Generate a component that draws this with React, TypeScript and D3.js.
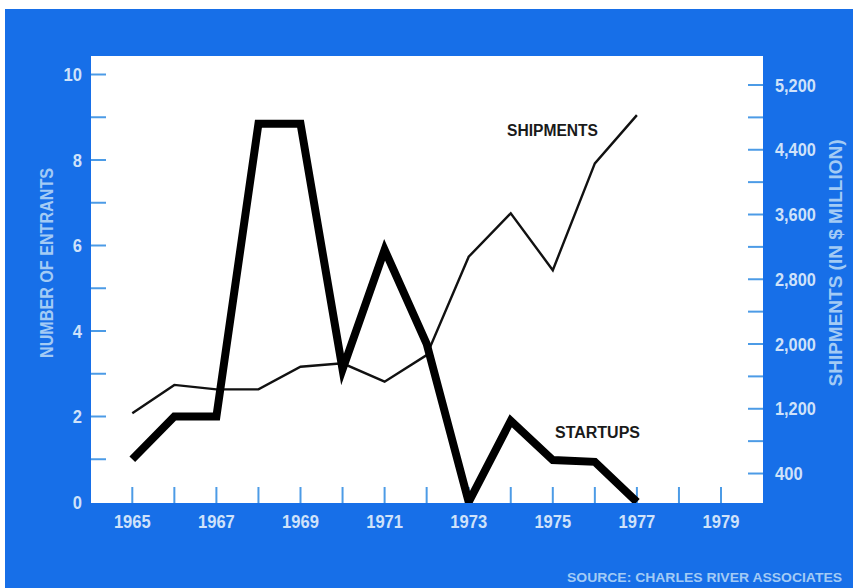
import React from "react";
import * as d3 from "d3";

const years = [1965, 1966, 1967, 1968, 1969, 1970, 1971, 1972, 1973, 1974, 1975, 1976, 1977];
const startups = [1.0, 2.0, 2.0, 8.85, 8.85, 3.1, 5.9, 3.7, 0, 1.9, 0.98, 0.94, 0];
const shipments = [1145, 1495, 1440, 1440, 1720, 1762, 1535, 1863, 3078, 3615, 2912, 4232, 4828];

const xTickYears = d3.range(1965, 1980);
const xLabelYears = [1965, 1967, 1969, 1971, 1973, 1975, 1977, 1979];
const leftTicks = d3.range(1, 11);
const leftLabels = [0, 2, 4, 6, 8, 10];
const rightTicks = d3.range(400, 5201, 400);
const rightLabels = [400, 1200, 2000, 2800, 3600, 4400, 5200];

const W = 853;
const H = 588;
const panel = { x0: 91, x1: 763, y0: 56, y1: 503 };
const BLUE = "#176fe8";
const TICK = "#4c9be6";
const LABEL = "#cfe2fa";
const TITLE = "#a3cbf5";
const FONT = "'Liberation Sans', Arial, Helvetica, sans-serif";

export default function App() {
  const x = d3.scaleLinear().domain([1965, 1979]).range([132.3, 721]);
  const yL = d3.scaleLinear().domain([0, 10]).range([502, 74.5]);
  const yR = d3.scaleLinear().domain([0, 5200]).range([505.9, 85]);

  const startLine = d3
    .line<number>()
    .x((_, i) => x(years[i]))
    .y((d) => yL(d))(startups) as string;
  const shipLine = d3
    .line<number>()
    .x((_, i) => x(years[i]))
    .y((d) => yR(d))(shipments) as string;

  const fmt = d3.format(",");
  const numWidth = (s: string) => {
    let w = 0;
    for (const c of s) w += c === "," ? 4 : 9.2;
    return w;
  };

  return (
    <div style={{ position: "absolute", left: 0, top: 0, width: W, height: H }}>
      <svg width={W} height={H} style={{ display: "block" }}>
        <defs>
          <clipPath id="panelClip">
            <rect x={panel.x0} y={panel.y0} width={panel.x1 - panel.x0} height={panel.y1 - panel.y0} />
          </clipPath>
        </defs>
        <rect x={0} y={0} width={W} height={H} fill="#ffffff" />
        <rect x={5} y={9} width={W - 5} height={H - 9} fill={BLUE} />
        <rect
          x={panel.x0}
          y={panel.y0}
          width={panel.x1 - panel.x0}
          height={panel.y1 - panel.y0}
          fill="#ffffff"
        />

        {/* left ticks */}
        {leftTicks.map((t) => (
          <line key={"lt" + t} x1={panel.x0} x2={panel.x0 + 15} y1={yL(t)} y2={yL(t)} stroke={TICK} strokeWidth={2} />
        ))}
        {/* right ticks */}
        {rightTicks.map((t) => (
          <line key={"rt" + t} x1={panel.x1 - 15} x2={panel.x1} y1={yR(t)} y2={yR(t)} stroke={TICK} strokeWidth={2} />
        ))}
        {/* bottom ticks */}
        {xTickYears.map((t) => (
          <line key={"xt" + t} x1={x(t)} x2={x(t)} y1={panel.y1 - 16} y2={panel.y1} stroke={TICK} strokeWidth={2} />
        ))}

        {/* left labels */}
        {leftLabels.map((t) => {
          const s = String(t);
          return (
            <text
              key={"ll" + t}
              x={82}
              y={yL(t) + 6.5}
              textAnchor="end"
              fontFamily={FONT}
              fontWeight="bold"
              fontSize={18}
              fill={LABEL}
              textLength={numWidth(s)}
              lengthAdjust="spacingAndGlyphs"
            >
              {s}
            </text>
          );
        })}
        {/* right labels */}
        {rightLabels.map((t) => {
          const s = fmt(t);
          return (
            <text
              key={"rl" + t}
              x={775}
              y={yR(t) + 6.5}
              textAnchor="start"
              fontFamily={FONT}
              fontWeight="bold"
              fontSize={18}
              fill={LABEL}
              textLength={numWidth(s)}
              lengthAdjust="spacingAndGlyphs"
            >
              {s}
            </text>
          );
        })}
        {/* bottom labels */}
        {xLabelYears.map((t) => {
          const s = String(t);
          return (
            <text
              key={"bl" + t}
              x={x(t)}
              y={527.5}
              textAnchor="middle"
              fontFamily={FONT}
              fontWeight="bold"
              fontSize={18}
              fill={LABEL}
              textLength={numWidth(s)}
              lengthAdjust="spacingAndGlyphs"
            >
              {s}
            </text>
          );
        })}

        {/* axis titles */}
        <text
          transform={`translate(53,263) rotate(-90)`}
          textAnchor="middle"
          fontFamily={FONT}
          fontWeight="bold"
          fontSize={18}
          fill={TITLE}
          textLength={190}
          lengthAdjust="spacingAndGlyphs"
        >
          NUMBER OF ENTRANTS
        </text>
        <text
          transform={`translate(842,263) rotate(-90)`}
          textAnchor="middle"
          fontFamily={FONT}
          fontWeight="bold"
          fontSize={18}
          fill={TITLE}
          textLength={247}
          lengthAdjust="spacingAndGlyphs"
        >
          SHIPMENTS (IN $ MILLION)
        </text>

        {/* lines */}
        <g clipPath="url(#panelClip)">
          <path d={shipLine} fill="none" stroke="#111" strokeWidth={2.4} strokeLinejoin="miter" />
          <path
            d={startLine}
            fill="none"
            stroke="#000"
            strokeWidth={8}
            strokeLinejoin="miter"
            strokeMiterlimit={10}
            strokeLinecap="butt"
          />
        </g>

        {/* series labels */}
        <text x={507} y={136} fontFamily={FONT} fontWeight="bold" fontSize={16} fill="#1a1a1a" textLength={91} lengthAdjust="spacingAndGlyphs">
          SHIPMENTS
        </text>
        <text x={555} y={438} fontFamily={FONT} fontWeight="bold" fontSize={16} fill="#1a1a1a" textLength={85} lengthAdjust="spacingAndGlyphs">
          STARTUPS
        </text>

        {/* source */}
        <text
          x={567}
          y={582}
          fontFamily={FONT}
          fontWeight="bold"
          fontSize={13.5}
          fill={TITLE}
          textLength={275}
          lengthAdjust="spacingAndGlyphs"
        >
          SOURCE: CHARLES RIVER ASSOCIATES
        </text>
      </svg>
    </div>
  );
}
